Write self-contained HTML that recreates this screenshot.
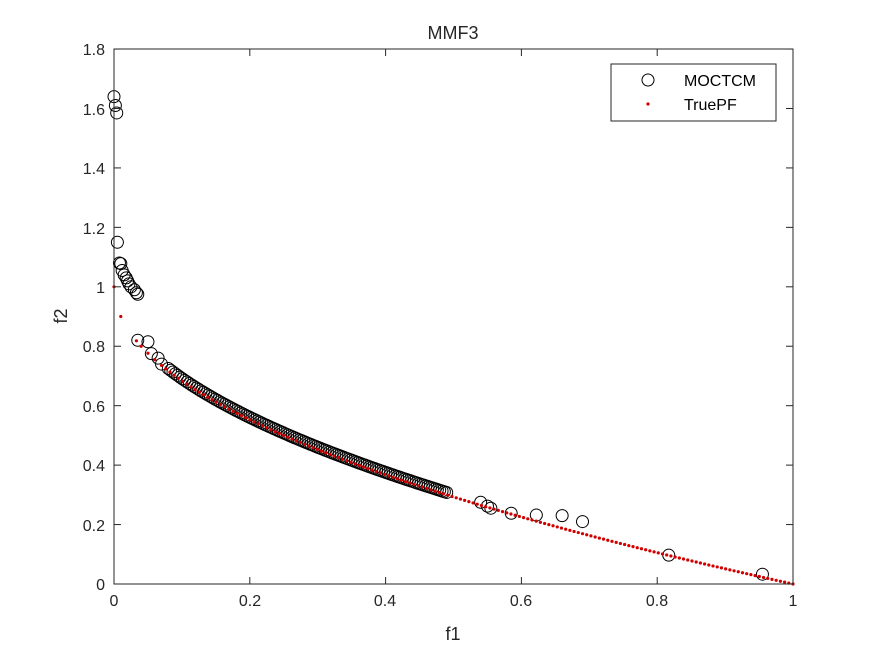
<!DOCTYPE html>
<html><head><meta charset="utf-8"><style>
body{margin:0;background:#fff;}
svg{display:block;font-family:"Liberation Sans",sans-serif;}
</style></head><body>
<svg id="s" width="875" height="656" xmlns="http://www.w3.org/2000/svg">
<rect width="875" height="656" fill="#fff"/>
<g id="data"></g>
<rect x="114" y="49" width="679" height="535" fill="none" stroke="#262626" stroke-width="1"/>
<g font-size="16" fill="#262626" text-anchor="middle">
<text x="114" y="606">0</text><text x="250" y="606">0.2</text><text x="385" y="606">0.4</text>
<text x="521" y="606">0.6</text><text x="657" y="606">0.8</text><text x="793" y="606">1</text>
<text x="453" y="640" font-size="18">f1</text>
<text x="453" y="39" font-size="18">MMF3</text>
</g>
<g font-size="16" fill="#262626" text-anchor="end">
<text x="105" y="590">0</text><text x="105" y="531">0.2</text><text x="105" y="471">0.4</text>
<text x="105" y="412">0.6</text><text x="105" y="352">0.8</text><text x="105" y="293">1</text>
<text x="105" y="234">1.2</text><text x="105" y="174">1.4</text><text x="105" y="115">1.6</text>
<text x="105" y="55">1.8</text>
</g>
<text x="0" y="0" font-size="18" fill="#262626" text-anchor="middle" transform="translate(67,316) rotate(-90)">f2</text>
<g id="ticks" stroke="#262626"></g>
<rect x="611" y="64" width="165" height="57" fill="#fff" stroke="#262626"/>
<circle cx="648" cy="80" r="6" fill="none" stroke="#000"/>
<circle cx="648" cy="104" r="1.6" fill="#d00000"/>
<g font-size="16" fill="#000"><text x="684" y="86">MOCTCM</text><text x="684" y="110">TruePF</text></g>
</svg>
<script>
var X=function(f){return 114+679*f},Y=function(f){return 584-297.2*f};
var g=document.getElementById('data'),t=document.getElementById('ticks'),h='';
var tk='';
for(var i=0;i<=5;i++){var x=X(i*0.2);tk+='<line x1="'+x+'" y1="584" x2="'+x+'" y2="577"/><line x1="'+x+'" y1="49" x2="'+x+'" y2="56"/>';}
for(var i=0;i<=9;i++){var y=Y(i*0.2);tk+='<line x1="114" y1="'+y+'" x2="121" y2="'+y+'"/><line x1="793" y1="'+y+'" x2="786" y2="'+y+'"/>';}
t.innerHTML=tk;
var pts=[[0,1.64],[0.002,1.61],[0.004,1.585],[0.005,1.15],[0.008,1.08],[0.01,1.078],[0.012,1.055],[0.015,1.04],[0.018,1.03],[0.02,1.02],[0.022,1.01],[0.025,1.0],[0.03,0.99],[0.033,0.98],[0.035,0.975],[0.035,0.82],[0.05,0.815],[0.055,0.775],[0.065,0.76],[0.07,0.74],[0.54,0.275],[0.55,0.262],[0.555,0.255],[0.585,0.238],[0.622,0.232],[0.66,0.23],[0.69,0.21],[0.817,0.097],[0.955,0.033]];
for(var i=0;i<120;i++){var f=0.08+0.41*i/119;pts.push([f,1-Math.sqrt(f)+0.008]);}
for(var i=0;i<pts.length;i++)h+='<circle cx="'+X(pts[i][0])+'" cy="'+Y(pts[i][1])+'" r="6" fill="none" stroke="#000" stroke-width="1"/>';
var fs=[0,0.01,0.033,0.04,0.05,0.06];
for(var i=0;i<=150;i++)fs.push(0.07+0.93*i/150);
for(var i=0;i<fs.length;i++){var f=fs[i];h+='<circle cx="'+X(f)+'" cy="'+Y(1-Math.sqrt(f))+'" r="1.6" fill="#d00000"/>';}
g.innerHTML=h;
</script>
</body></html>
